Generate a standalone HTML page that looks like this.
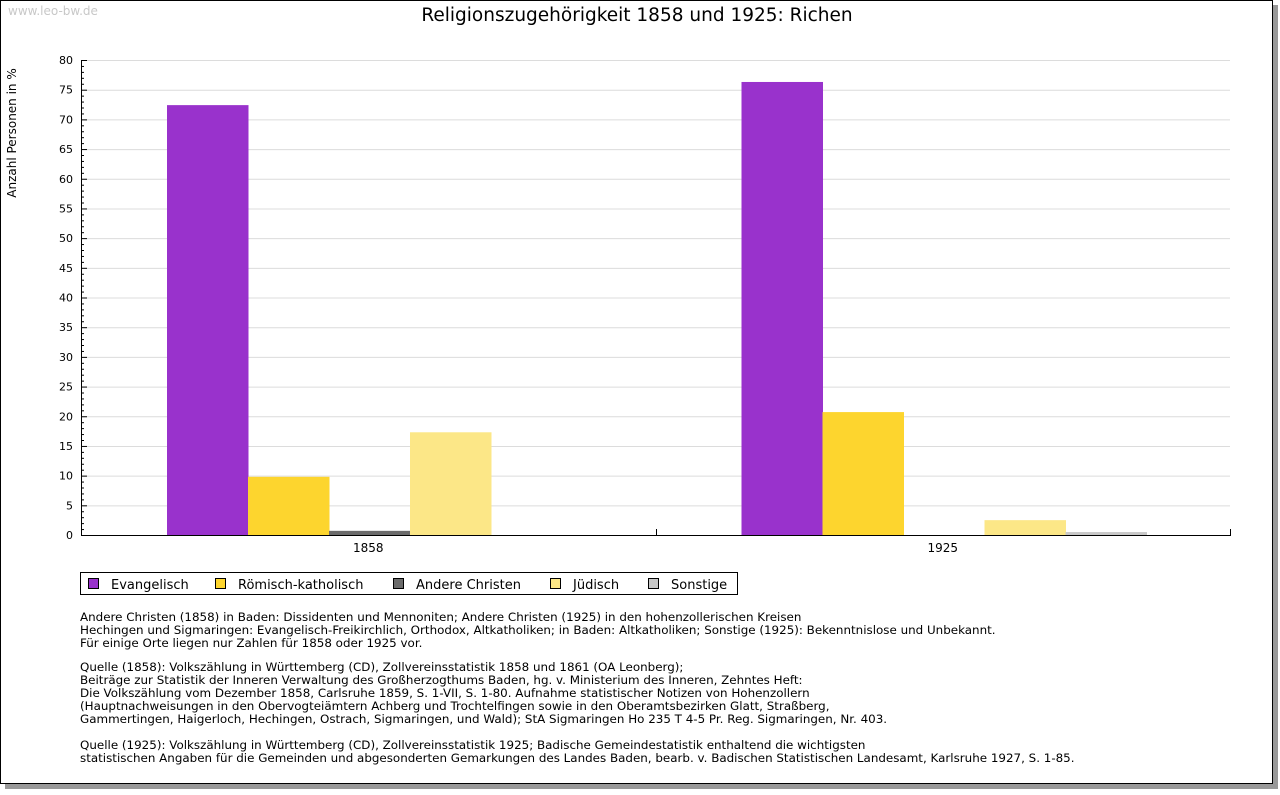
<!DOCTYPE html>
<html><head><meta charset="utf-8">
<style>
body{margin:0;background:#fff;width:1280px;height:791px;overflow:hidden;font-family:"DejaVu Sans","Liberation Sans",sans-serif;}
svg text{font-family:"DejaVu Sans","Liberation Sans",sans-serif;}
</style></head>
<body>
<svg id="chart" width="1280" height="791" xmlns="http://www.w3.org/2000/svg">
<rect x="5" y="5" width="1273" height="784" fill="#999"/>
<rect x="0.5" y="0.5" width="1272" height="783" fill="#fff" stroke="#000"/>
<text x="8" y="15" font-size="12" fill="#c8c8c8">www.leo-bw.de</text>
<text x="637" y="21" font-size="18.5" text-anchor="middle" fill="#000">Religionszugehörigkeit 1858 und 1925: Richen</text>
<text transform="translate(16,133) rotate(-90)" font-size="12" text-anchor="middle">Anzahl Personen in %</text>
<g id="plot"></g>
<g id="legend">
<rect x="80.5" y="572.5" width="657" height="22" fill="#fff" stroke="#000"/>
</g>
<g font-size="11.9" fill="#000">
<text x="80" y="621">Andere Christen (1858) in Baden: Dissidenten und Mennoniten; Andere Christen (1925) in den hohenzollerischen Kreisen</text>
<text x="80" y="634">Hechingen und Sigmaringen: Evangelisch-Freikirchlich, Orthodox, Altkatholiken; in Baden: Altkatholiken; Sonstige (1925): Bekenntnislose und Unbekannt.</text>
<text x="80" y="647">Für einige Orte liegen nur Zahlen für 1858 oder 1925 vor.</text>
<text x="80" y="671">Quelle (1858): Volkszählung in Württemberg (CD), Zollvereinsstatistik 1858 und 1861 (OA Leonberg);</text>
<text x="80" y="684">Beiträge zur Statistik der Inneren Verwaltung des Großherzogthums Baden, hg. v. Ministerium des Inneren, Zehntes Heft:</text>
<text x="80" y="697">Die Volkszählung vom Dezember 1858, Carlsruhe 1859, S. 1-VII, S. 1-80. Aufnahme statistischer Notizen von Hohenzollern</text>
<text x="80" y="710">(Hauptnachweisungen in den Obervogteiämtern Achberg und Trochtelfingen sowie in den Oberamtsbezirken Glatt, Straßberg,</text>
<text x="80" y="723">Gammertingen, Haigerloch, Hechingen, Ostrach, Sigmaringen, und Wald); StA Sigmaringen Ho 235 T 4-5 Pr. Reg. Sigmaringen, Nr. 403.</text>
<text x="80" y="749">Quelle (1925): Volkszählung in Württemberg (CD), Zollvereinsstatistik 1925; Badische Gemeindestatistik enthaltend die wichtigsten</text>
<text x="80" y="762">statistischen Angaben für die Gemeinden und abgesonderten Gemarkungen des Landes Baden, bearb. v. Badischen Statistischen Landesamt, Karlsruhe 1927, S. 1-85.</text>
</g>
</svg>
<script>
const categories = ["1858", "1925"];
const seriesNames = ["Evangelisch", "Römisch-katholisch", "Andere Christen", "Jüdisch", "Sonstige"];
const evangelisch = [72.4, 76.3];
const katholisch = [9.8, 20.7];
const andereChristen = [0.7, 0];
const juedisch = [17.3, 2.5];
const sonstige = [0, 0.5];
const yTicks = [0,5,10,15,20,25,30,35,40,45,50,55,60,65,70,75,80];
const colors = ["#9932cc","#fdd52e","#6b6b6b","#fce787","#c8c8c8"];
const series = [evangelisch, katholisch, andereChristen, juedisch, sonstige];

const NS="http://www.w3.org/2000/svg";
const X0=81, X1=1230, Y0=535, Y1=60, YMAX=80;
const y = v => Y0 - v/YMAX*(Y0-Y1);
const catW = (X1-X0)/categories.length;
const barW = 81;
const x = (ci, si) => X0 + ci*catW + 86 + si*barW;
const plot=document.getElementById('plot');
function mk(tag, attrs, parent){const e=document.createElementNS(NS,tag);for(const k in attrs)e.setAttribute(k,attrs[k]);(parent||plot).appendChild(e);return e;}

for(const t of yTicks){
  if(t>0){const g=mk('line',{x1:X0,x2:X1,y1:y(t)+0.5,y2:y(t)+0.5,stroke:'#dcdcdc'});
  
  }
  const lb=mk('text',{x:X0-8,y:y(t)+4,'font-size':11,'text-anchor':'end'});
  lb.textContent=t;
  
  
}
for(let v=0;v<=YMAX;v++){
  const len = v%5===0?6:3;
  mk('line',{x1:X0,x2:X0+len,y1:y(v)+0.5,y2:y(v)+0.5,stroke:'#000'});
}
series.forEach((s,si)=>{
  s.forEach((v,ci)=>{
    const r=mk('rect',{x:x(ci,si),y:y(v),width:barW+0.5,height:Y0-y(v),fill:colors[si]});
    
    
  });
});
mk('line',{x1:X0+0.5,x2:X0+0.5,y1:Y1,y2:Y0+1,stroke:'#000'});
mk('line',{x1:X0,x2:X1+1,y1:Y0+0.5,y2:Y0+0.5,stroke:'#000'});
for(let i=1;i<=categories.length;i++){
  const xx=Math.round(X0+i*catW)+0.5;
  mk('line',{x1:xx,x2:xx,y1:Y0-6,y2:Y0,stroke:'#000'});
}
categories.forEach((c,ci)=>{
  const t=mk('text',{x:X0+ci*catW+catW/2,y:552,'font-size':12,'text-anchor':'middle'});
  t.textContent=c;
  
  
});
const leg=document.getElementById('legend');
const legX=[88,215,393,550,648];
seriesNames.forEach((n,i)=>{
  const r=mk('rect',{x:legX[i]+0.5,y:578.5,width:10,height:10,fill:colors[i],stroke:'#000'},leg);
  
  
  const t=mk('text',{x:legX[i]+23,y:589,'font-size':13},leg);
  t.textContent=n;
  
  
});
</script>
</body></html>
